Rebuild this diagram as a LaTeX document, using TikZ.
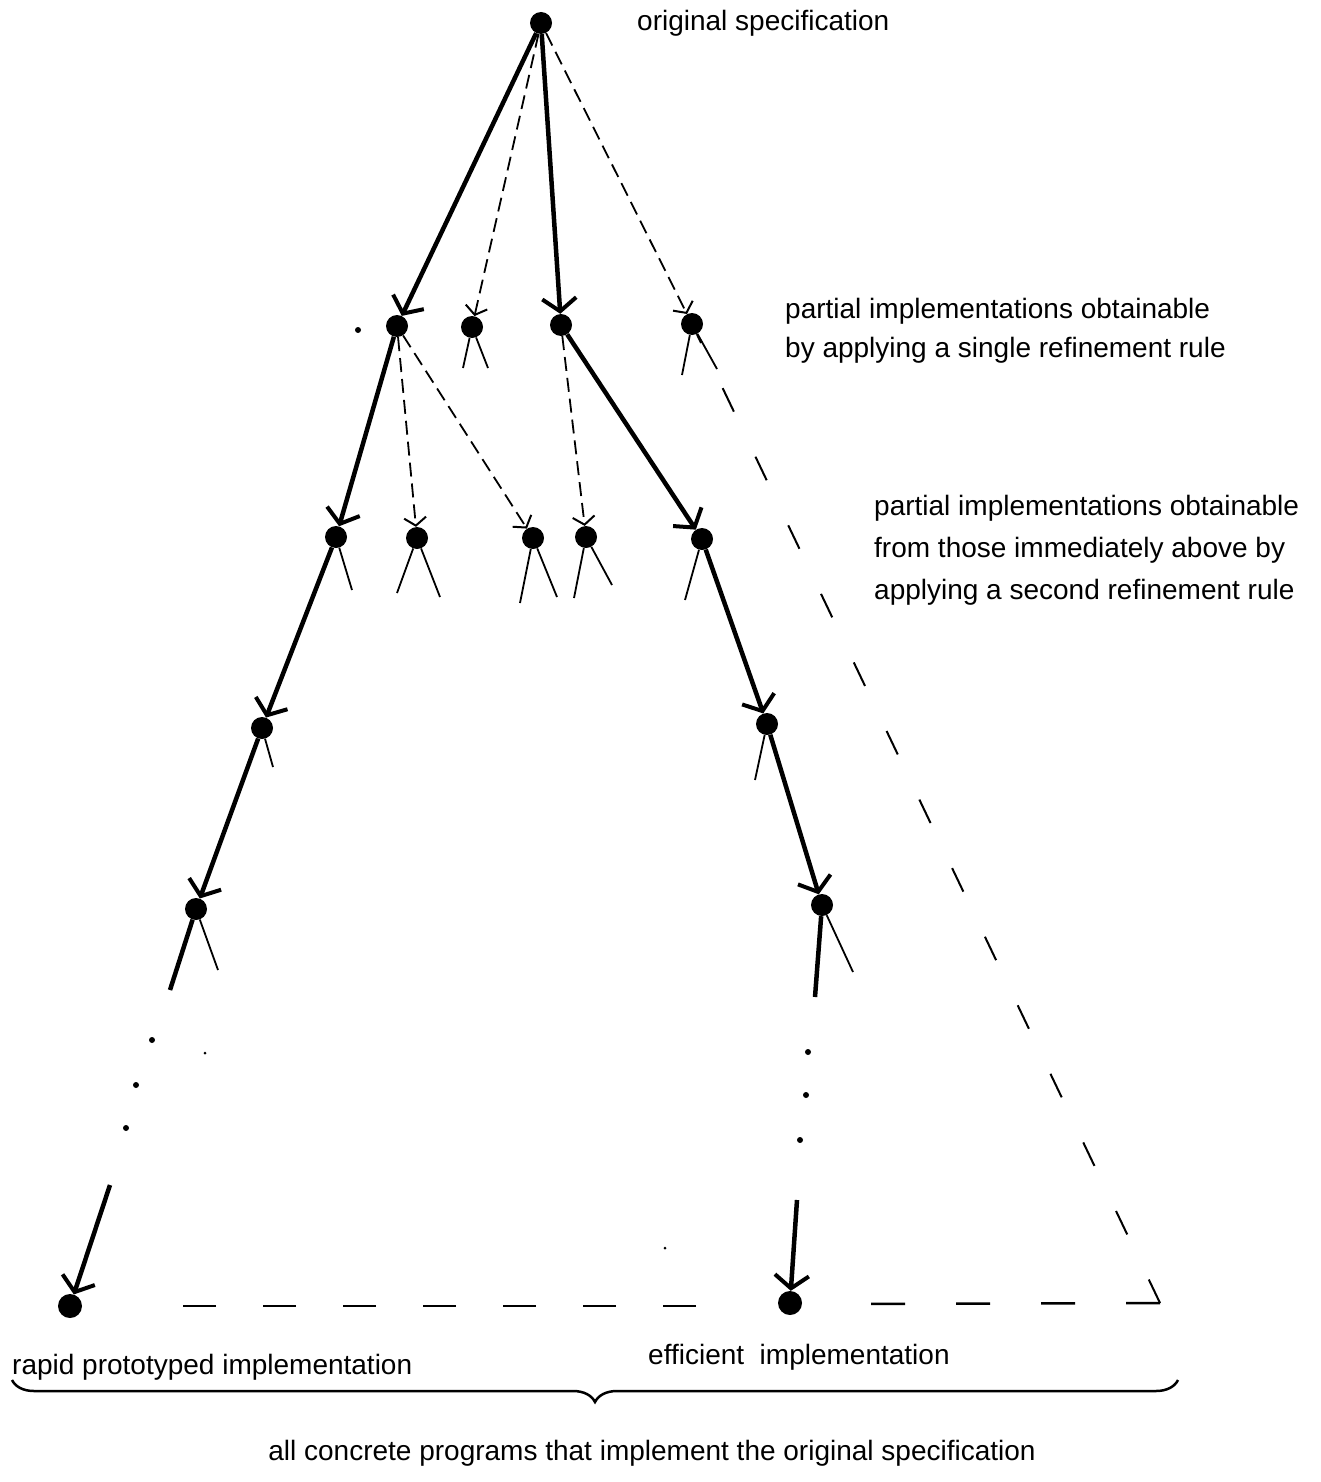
\documentclass[tikz,border=0pt]{standalone}
\usepackage{fontspec}
\setmainfont{Liberation Sans}
\usetikzlibrary{arrows.meta,decorations.pathreplacing}
\begin{document}
\begin{tikzpicture}[x=1pt,y=-1pt,
  dot/.style={circle,fill=black,inner sep=0pt,minimum size=22pt},
  smalldot/.style={circle,fill=black,inner sep=0pt,minimum size=6pt},
  thickarrow/.style={line width=4.5pt,-{Straight Barb[length=13pt,width=34pt,line width=4pt]}},
  thinarrow/.style={line width=1.8pt,dash pattern=on 14pt off 7pt,-{Straight Barb[length=8pt,width=22pt,line width=2pt]}},
  stub/.style={line width=1.8pt},
  thickstub/.style={line width=4.5pt},
  bigdash/.style={line width=2pt,dash pattern=on 26pt off 50pt},
  basedash/.style={line width=2.5pt,dash pattern=on 34pt off 51pt},
  basedashl/.style={line width=2.5pt,dash pattern=on 33pt off 47pt},
  lbl/.style={anchor=west,inner sep=0pt,align=left,font=\fontsize{28}{39}\selectfont}
]
\useasboundingbox (0,0) rectangle (1320,1482);

% nodes
\node[dot] (R) at (541,23) {};
\node[dot] (A) at (397,326) {};
\node[dot] (B) at (472,327) {};
\node[dot] (C) at (561,325) {};
\node[dot] (D) at (692,324) {};
\node[dot] (E) at (336,537) {};
\node[dot] (F) at (417,538) {};
\node[dot] (G) at (533,538) {};
\node[dot] (H) at (586,537) {};
\node[dot] (I) at (702,539) {};
\node[dot] (J) at (262,728) {};
\node[dot] (K) at (767,724) {};
\node[dot] (L) at (196,909) {};
\node[dot] (M) at (822,905) {};
\node[dot,minimum size=24pt] (N) at (70,1306) {};
\node[dot,minimum size=24pt] (P) at (790,1303) {};
\coordinate (Z) at (1160,1303);
\coordinate (Nstart) at (110,1185);
\coordinate (Pstart) at (797,1200);
\coordinate (Bleft) at (183,1306);
\coordinate (Bmidl) at (696,1306);
\coordinate (Bmidr) at (866,1304);

% main refinement paths
\draw[thickarrow] (R) -- (A);
\draw[thickarrow] (R) -- (C);
\draw[thickarrow] (A) -- (E);
\draw[thickarrow] (C) -- (I);
\draw[thickarrow] (E) -- (J);
\draw[thickarrow] (I) -- (K);
\draw[thickarrow] (J) -- (L);
\draw[thickarrow] (K) -- (M);
\draw[thickarrow] (Nstart) -- (N);
\draw[thickarrow] (Pstart) -- (P);

% alternative refinements
\draw[thinarrow] (R) -- (B);
\draw[thinarrow] (R) -- (D);
\draw[thinarrow] (A) -- (F);
\draw[thinarrow] (A) -- (G);
\draw[thinarrow] (C) -- (H);

% stubs
\draw[stub] (B) -- ++(-9,41);
\draw[stub] (B) -- ++(16,41);
\draw[stub] (D) -- ++(-10,51);
\draw[stub] (D) -- ++(25,45);
\draw[stub] (E) -- ++(16,53);
\draw[stub] (F) -- ++(-20,55);
\draw[stub] (F) -- ++(23,59);
\draw[stub] (G) -- ++(-13,65);
\draw[stub] (G) -- ++(24,59);
\draw[stub] (H) -- ++(-12,61);
\draw[stub] (H) -- ++(26,48);
\draw[stub] (I) -- ++(-17,61);
\draw[stub] (J) -- ++(11,39);
\draw[stub] (K) -- ++(-12,56);
\draw[stub] (L) -- ++(22,61);
\draw[thickstub] (L) -- ++(-26,81);
\draw[stub] (M) -- ++(31,67);
\draw[thickstub] (M) -- ++(-7,92);

% outer boundary of the space
\draw[bigdash] (Z) -- (D);
\draw[basedash] (Z) -- (Bmidr);
\draw[basedashl] (Bmidl) -- (Bleft);

% dots
\node[smalldot] (d0) at (358,330) {};
\node[smalldot] (d1) at (152,1040) {};
\node[smalldot,minimum size=3pt] (d2) at (205,1053) {};
\node[smalldot] (d3) at (136,1085) {};
\node[smalldot] (d4) at (126,1128) {};
\node[smalldot] (d5) at (808,1052) {};
\node[smalldot] (d6) at (806,1095) {};
\node[smalldot] (d7) at (800,1140) {};
\node[smalldot,minimum size=3pt] (d8) at (665,1248) {};

% brace
\draw[line width=2.5pt,decorate,decoration={brace,amplitude=22pt}] (1178,1380) -- (12,1380);

% labels
\node[lbl] (t0) at (637,23) {original specification};
\node[lbl] (t1) at (785,331) {partial implementations obtainable\\by applying a single refinement rule};
\node[lbl,font=\fontsize{28}{42}\selectfont] (t2) at (874,550) {partial implementations obtainable\\from those immediately above by\\applying a second refinement rule};
\node[lbl] (t3) at (12,1367) {rapid prototyped implementation};
\node[lbl] (t4) at (648,1357) {efficient\ \ implementation};
\node[font=\fontsize{28}{34}\selectfont,inner sep=0pt] (t5) at (652,1453) {all concrete programs that implement the original specification};
\end{tikzpicture}
\end{document}
